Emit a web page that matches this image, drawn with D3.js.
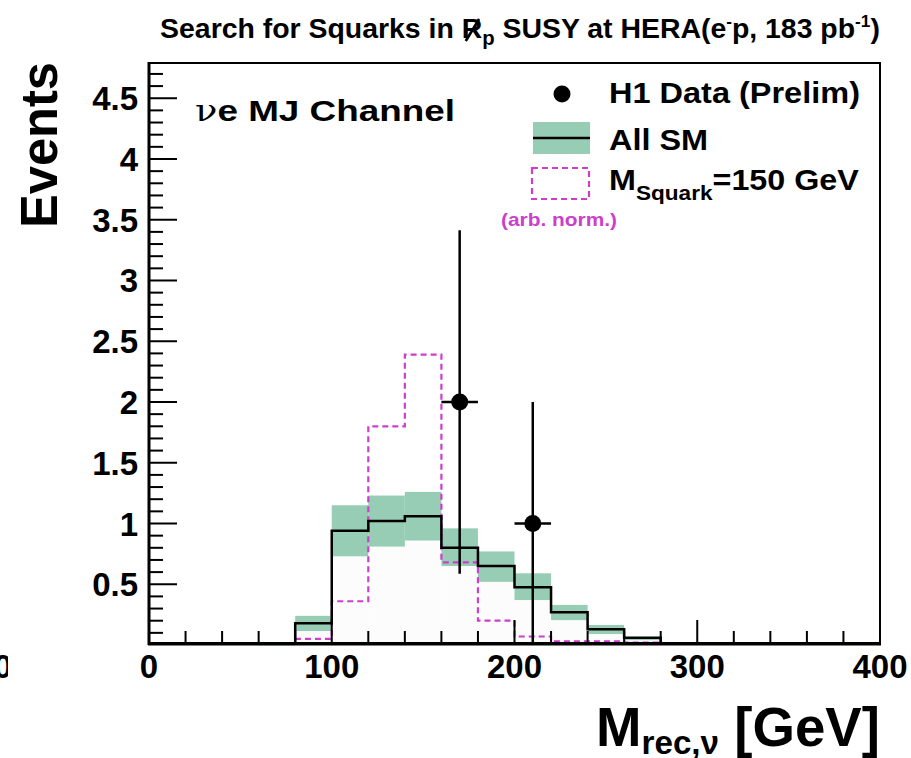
<!DOCTYPE html>
<html lang="en">
<head>
<meta charset="UTF-8">
<title>Squark search - nu e MJ channel</title>
<script src="https://d3js.org/d3.v7.min.js"></script>
<style>
  body { margin: 0; background: #fff; }
  svg text { font-family: "Liberation Sans", Arial, Helvetica, sans-serif; font-weight: bold; }
</style>
</head>
<body>
<div id="chartArea"></div>
<script>
// bin edges, 20 GeV bins from 0 to 400
const binEdges = [0,20,40,60,80,100,120,140,160,180,200,220,240,260,280,300,320,340,360,380,400];
// all SM expectation (black line) and its error band
const smValues = [0,0,0,0.005,0.18,0.94,1.02,1.06,0.80,0.65,0.475,0.27,0.13,0.06,0,0,0,0,0,0];
const smLow    = [0,0,0,0,0.115,0.73,0.81,0.86,0.65,0.52,0.37,0.205,0.09,0.04,0,0,0,0,0,0];
const smHigh   = [0,0,0,0.01,0.24,1.15,1.23,1.26,0.96,0.77,0.59,0.33,0.165,0.065,0,0,0,0,0,0];
// squark signal, M = 150 GeV (arb. norm.)
const sigValues = [0.015,0.015,0.015,0.015,0.05,0.36,1.80,2.39,0.68,0.20,0.07,0.03,0.03,0.02,0.015,0.015,0.015,0.015,0.015,0.015];
// H1 data points
const dataX    = [170, 210];
const dataY    = [2, 1];
const dataErrLo = [1.414, 1];
const dataErrHi = [1.414, 1];
const dataXErr = [10, 10];
// axis ticks
const xTickLabels = [0, 100, 200, 300, 400];
const yTickLabels = [0.5, 1, 1.5, 2, 2.5, 3, 3.5, 4, 4.5];

const W = 911, H = 758;
const pLeft = 149, pRight = 880, pTop = 63, pBottom = 643;
const yMin = 0.0165;
const green = "#96cdb4", magenta = "#cc3fcc";

const svg = d3.select("#chartArea").append("svg")
    .attr("width", W).attr("height", H);

const x = d3.scaleLinear().domain([0, 400]).range([pLeft, pRight]);
const y = d3.scaleLinear().domain([yMin, 4.79]).range([pBottom, pTop]);

// stretch a text horizontally so it spans "width", keeping anchor x fixed
function fit(sel, width, ax) {
    const w = sel.node().getBBox().width;
    const s = width / w;
    sel.attr("transform", `translate(${ax},0) scale(${s},1) translate(${-ax},0)`);
}

const bins = d3.range(binEdges.length - 1).map(i => ({
    x0: binEdges[i], x1: binEdges[i + 1],
    sm: smValues[i], lo: smLow[i], hi: smHigh[i], sig: sigValues[i]
}));

// very light fill under the SM histogram
svg.selectAll("rect.smfill").data(bins.filter(d => d.lo > yMin)).enter()
    .append("rect")
    .attr("x", d => x(d.x0)).attr("width", d => x(d.x1) - x(d.x0))
    .attr("y", d => y(d.lo)).attr("height", d => y(yMin) - y(d.lo))
    .attr("fill", "#fcfcfc");

// SM error band
svg.selectAll("rect.band").data(bins.filter(d => d.hi > 0)).enter()
    .append("rect")
    .attr("x", d => x(d.x0)).attr("width", d => x(d.x1) - x(d.x0))
    .attr("y", d => y(d.hi)).attr("height", d => Math.max(1.5, y(Math.max(d.lo, yMin)) - y(d.hi)))
    .attr("fill", green);

function stepPoints(vals) {
    const pts = [];
    bins.forEach((b, i) => {
        const v = Math.max(vals[i], yMin);
        pts.push([x(b.x0), y(v)]);
        pts.push([x(b.x1), y(v)]);
    });
    return pts;
}

// signal (dashed magenta)
svg.append("path")
    .attr("d", d3.line()(stepPoints(sigValues)))
    .attr("fill", "none")
    .attr("stroke", magenta)
    .attr("stroke-width", 2.2)
    .attr("stroke-dasharray", "6,4");

// SM line
const smPts = [];
bins.forEach(b => {
    if (b.x0 < 80 || b.x0 >= 280) return;
    smPts.push([x(b.x0), y(Math.max(b.sm, yMin))]);
    smPts.push([x(b.x1), y(Math.max(b.sm, yMin))]);
});
smPts.unshift([x(80), y(yMin)]);
smPts.push([x(280), y(yMin)]);
svg.append("path")
    .attr("d", d3.line()(smPts))
    .attr("fill", "none")
    .attr("stroke", "#000")
    .attr("stroke-width", 2.5);

// frame
svg.append("rect")
    .attr("x", pLeft).attr("y", pTop)
    .attr("width", pRight - pLeft).attr("height", pBottom - pTop)
    .attr("fill", "none").attr("stroke", "#000").attr("stroke-width", 2);

// left axis, ticks inside
const yMinor = d3.range(1, 48).map(v => v / 10);
svg.append("g").selectAll("line").data(yMinor).enter().append("line")
    .attr("x1", pLeft).attr("x2", d => pLeft + (Math.abs(d * 2 - Math.round(d * 2)) < 1e-6 ? 28 : 14))
    .attr("y1", d => y(d)).attr("y2", d => y(d))
    .attr("stroke", "#000").attr("stroke-width", 2);
svg.append("line").attr("x1", pLeft).attr("x2", pLeft).attr("y1", pTop - 1).attr("y2", pBottom + 2)
    .attr("stroke", "#000").attr("stroke-width", 3);

svg.append("g").selectAll("text").data(yTickLabels).enter().append("text")
    .attr("x", 138).attr("y", d => y(d) + 12)
    .attr("text-anchor", "end")
    .attr("font-size", 33)
    .text(d => d);

// bottom axis, ticks inside
const xMinor = d3.range(20, 400, 20);
svg.append("g").selectAll("line").data(xMinor).enter().append("line")
    .attr("x1", d => x(d)).attr("x2", d => x(d))
    .attr("y1", pBottom).attr("y2", d => pBottom - (d % 100 === 0 ? 23 : 12))
    .attr("stroke", "#000").attr("stroke-width", 2);
svg.append("line").attr("x1", pLeft - 1).attr("x2", pRight + 1).attr("y1", pBottom + 1).attr("y2", pBottom + 1)
    .attr("stroke", "#000").attr("stroke-width", 3);

svg.append("g").selectAll("text").data(xTickLabels).enter().append("text")
    .attr("x", d => x(d)).attr("y", 678)
    .attr("text-anchor", "middle")
    .attr("font-size", 33)
    .text(d => d);

// label cut off at the left edge
svg.append("clipPath").attr("id", "cutLeft")
    .append("rect").attr("x", 0).attr("y", 640).attr("width", 8).attr("height", 50);
svg.append("text")
    .attr("clip-path", "url(#cutLeft)")
    .attr("x", 12).attr("y", 678).attr("text-anchor", "end")
    .attr("font-size", 33).text("100");

// data points
const pts = dataX.map((v, i) => ({ x: v, y: dataY[i], lo: dataErrLo[i], hi: dataErrHi[i], xe: dataXErr[i] }));
const gData = svg.append("g");
gData.selectAll("line.ev").data(pts).enter().append("line")
    .attr("x1", d => x(d.x)).attr("x2", d => x(d.x))
    .attr("y1", d => y(Math.max(d.y - d.lo, yMin))).attr("y2", d => y(d.y + d.hi))
    .attr("stroke", "#000").attr("stroke-width", 2.5);
gData.selectAll("line.eh").data(pts).enter().append("line")
    .attr("x1", d => x(d.x - d.xe)).attr("x2", d => x(d.x + d.xe))
    .attr("y1", d => y(d.y)).attr("y2", d => y(d.y))
    .attr("stroke", "#000").attr("stroke-width", 2.5);
gData.selectAll("circle").data(pts).enter().append("circle")
    .attr("cx", d => x(d.x)).attr("cy", d => y(d.y)).attr("r", 8.5)
    .attr("fill", "#000");

// title
const gTitle = svg.append("g");
const title = gTitle.append("text").attr("x", 520).attr("y", 38)
    .attr("text-anchor", "middle").attr("font-size", 28);
title.append("tspan").text("Search for Squarks in R");
title.append("tspan").attr("dy", 7).attr("font-size", 20).text("p");
title.append("tspan").attr("dy", -7).text(" SUSY at HERA(e");
title.append("tspan").attr("dy", -11).attr("font-size", 17).text("-");
title.append("tspan").attr("dy", 11).text("p, 183 pb");
title.append("tspan").attr("dy", -11).attr("font-size", 17).text("-1");
title.append("tspan").attr("dy", 11).text(")");
// slash through the R (R-parity violation)
const rBox = title.node().getExtentOfChar(22);
gTitle.append("line")
    .attr("x1", rBox.x + rBox.width * 0.2).attr("y1", 38 + 3)
    .attr("x2", rBox.x + rBox.width * 0.85).attr("y2", 38 - 19)
    .attr("stroke", "#000").attr("stroke-width", 2.6);
fit(gTitle, 720, 520);

// channel label
const chan = svg.append("text").attr("x", 195).attr("y", 121).attr("font-size", 30);
chan.append("tspan").attr("font-weight", "normal").attr("font-family", "DejaVu Serif, serif").text("ν");
chan.append("tspan").text("e MJ Channel");
fit(chan, 260, 195);

// axis titles
const yt = svg.append("text")
    .attr("text-anchor", "end")
    .attr("font-size", 52)
    .text("Events");
const ytLen = yt.node().getBBox().width;
yt.attr("transform", `translate(57,62) rotate(-90) scale(${166 / ytLen},1)`);

const xt = svg.append("text").attr("x", 880).attr("y", 746)
    .attr("text-anchor", "end").attr("font-size", 56);
xt.append("tspan").text("M");
xt.append("tspan").attr("dy", 8).attr("font-size", 34).text("rec,ν");
xt.append("tspan").attr("dy", -8).text(" [GeV]");
fit(xt, 284, 880);

// legend
const leg = svg.append("g");
leg.append("circle").attr("cx", 562).attr("cy", 94).attr("r", 8.5).attr("fill", "#000");
const l1 = leg.append("text").attr("x", 609).attr("y", 103).attr("font-size", 30).text("H1 Data (Prelim)");
fit(l1, 251, 609);
leg.append("rect").attr("x", 533).attr("y", 122).attr("width", 57).attr("height", 32).attr("fill", green);
leg.append("line").attr("x1", 533).attr("x2", 590).attr("y1", 138).attr("y2", 138)
    .attr("stroke", "#000").attr("stroke-width", 2.5);
const l2 = leg.append("text").attr("x", 609).attr("y", 150).attr("font-size", 30).text("All SM");
fit(l2, 99, 609);
leg.append("rect").attr("x", 532).attr("y", 168).attr("width", 57).attr("height", 31)
    .attr("fill", "none").attr("stroke", magenta).attr("stroke-width", 2.2).attr("stroke-dasharray", "6,4");
const ms = leg.append("text").attr("x", 609).attr("y", 190).attr("font-size", 30);
ms.append("tspan").text("M");
ms.append("tspan").attr("dy", 10).attr("font-size", 21).text("Squark");
ms.append("tspan").attr("dy", -10).text("=150 GeV");
fit(ms, 250, 609);
const an = leg.append("text").attr("x", 501).attr("y", 226).attr("font-size", 19)
    .attr("fill", magenta).text("(arb. norm.)");
fit(an, 116, 501);
</script>
</body>
</html>
